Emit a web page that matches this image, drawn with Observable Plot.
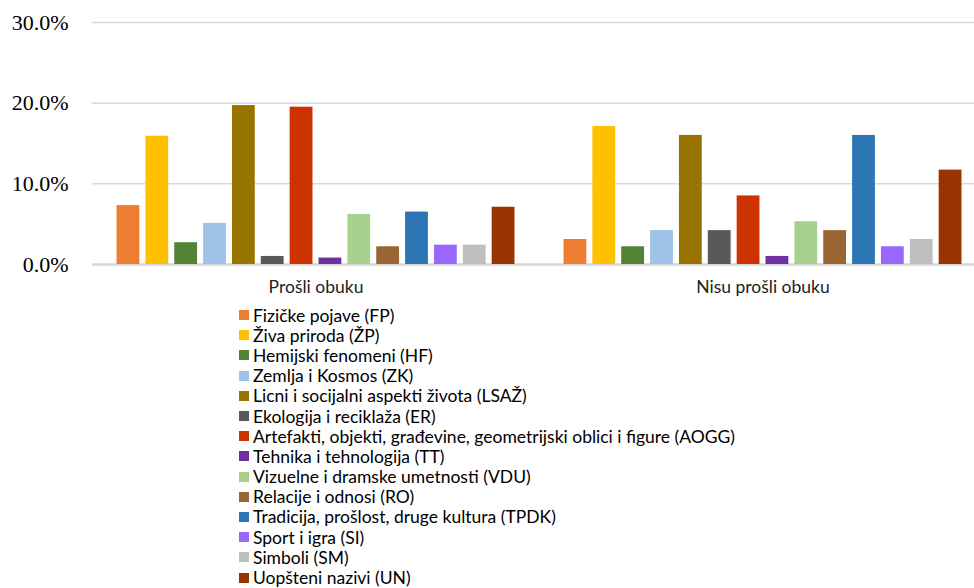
<!DOCTYPE html>
<html><head><meta charset="utf-8">
<script src="https://cdn.jsdelivr.net/npm/d3@7"></script>
<script src="https://cdn.jsdelivr.net/npm/@observablehq/plot@0.6"></script>
<style>
body{margin:0;background:#fff;overflow:hidden;}
#legend{margin-left:239px;margin-top:3px;font-family:Lato,sans-serif;font-size:17.5px;color:#000;}
.item{display:flex;align-items:center;height:20.2px;white-space:nowrap;}
.sw{width:10px;height:10px;margin-right:4px;flex:none;}
#chart g[aria-label="y-axis tick label"] text{font-family:"Liberation Serif",serif !important;font-size:22px !important;font-weight:normal;fill:#000;}
#chart g[aria-label="fx-axis tick label"] text{font-size:17.5px !important;fill:#222;}
</style></head><body><div id="chart"></div><div id="legend"></div>
<script>
const groups = ["Prošli obuku", "Nisu prošli obuku"];
const categories = [
  "Fizičke pojave (FP)",
  "Živa priroda (ŽP)",
  "Hemijski fenomeni (HF)",
  "Zemlja i Kosmos (ZK)",
  "Licni i socijalni aspekti života (LSAŽ)",
  "Ekologija i reciklaža (ER)",
  "Artefakti, objekti, građevine, geometrijski oblici i figure (AOGG)",
  "Tehnika i tehnologija (TT)",
  "Vizuelne i dramske umetnosti (VDU)",
  "Relacije i odnosi (RO)",
  "Tradicija, prošlost, druge kultura (TPDK)",
  "Sport i igra (SI)",
  "Simboli (SM)",
  "Uopšteni nazivi (UN)"
];
const colors = ["#ED7D31","#FFC000","#548235","#9DC3E6","#997300","#595959","#CC3300","#7030A0","#A9D18E","#996633","#2E75B6","#9966FF","#BFBFBF","#993300"];
const valuesProsli = [7.3, 15.9, 2.7, 5.1, 19.7, 1.0, 19.5, 0.8, 6.2, 2.2, 6.5, 2.4, 2.4, 7.1];
const valuesNisu = [3.1, 17.1, 2.2, 4.2, 16.0, 4.2, 8.5, 1.0, 5.3, 4.2, 16.0, 2.2, 3.1, 11.7];
const yTicks = [0, 0.1, 0.2, 0.3];

const data = [];
groups.forEach((g, gi) => categories.forEach((c, ci) => {
  data.push({group: g, cat: c, value: (gi === 0 ? valuesProsli : valuesNisu)[ci] / 100});
}));

const chart = Plot.plot({
  width: 974, height: 302,
  marginLeft: 92, marginRight: -12, marginTop: 22, marginBottom: 38,
  style: {fontFamily: "Lato, sans-serif", fontSize: "16px", color: "#000", background: "#fff"},
  fx: {domain: groups, padding: 0, round: false, label: null, axis: null},
  x: {domain: categories, paddingInner: 0.21, paddingOuter: 0.85, round: false, axis: null},
  y: {domain: [0, 0.3], axis: null},
  color: {domain: categories, range: colors},
  marks: [
    Plot.gridY(yTicks, {stroke: "#d9d9d9", strokeOpacity: 1, strokeWidth: 1.5}),
    Plot.ruleY([0], {stroke: "#d9d9d9", strokeWidth: 2.5}),
    Plot.barY(data, {fx: "group", x: "cat", y: "value", fill: "cat"}),
    Plot.axisY(yTicks, {tickSize: 0, tickPadding: 24, label: null,
      tickFormat: d => (d * 100).toFixed(1) + "%"}),
    Plot.axisFx({anchor: "bottom", tickSize: 0, tickPadding: 16, label: null})
  ]
});
document.getElementById("chart").appendChild(chart);

const legend = document.getElementById("legend");
categories.forEach((c, i) => {
  const it = document.createElement("div");
  it.className = "item";
  const sw = document.createElement("span");
  sw.className = "sw";
  sw.style.background = colors[i];
  const t = document.createElement("span");
  t.textContent = c;
  it.appendChild(sw); it.appendChild(t);
  legend.appendChild(it);
});
</script>
</body></html>
